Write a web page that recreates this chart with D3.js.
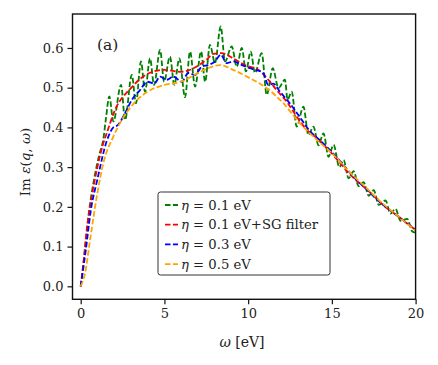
<!DOCTYPE html>
<html><head><meta charset="utf-8">
<script src="https://cdn.jsdelivr.net/npm/d3@7"></script>
<style>body{margin:0;background:#fff}</style>
</head><body>
<svg id="c" width="438" height="365"></svg>
<script>
// ---- data ----
const xTicks = [0, 5, 10, 15, 20];
const yTicks = [0.0, 0.1, 0.2, 0.3, 0.4, 0.5, 0.6];
const seriesNames = ["0.1 eV", "0.1 eV+SG filter", "0.3 eV", "0.5 eV"];
const seriesColors = ["green", "red", "blue", "orange"];

const green = [[0,0],[0.2,0.07],[0.5,0.19],[0.8,0.27],[1.1,0.33],[1.35,0.37],[1.5,0.42],[1.71,0.478],[1.95,0.415],[2.41,0.507],[2.65,0.419],[3.05,0.532],[3.30,0.461],[3.60,0.566],[3.84,0.49],[4.14,0.574],[4.38,0.507],[4.74,0.595],[4.98,0.515],[5.33,0.578],[5.59,0.507],[5.89,0.574],[6.23,0.476],[6.53,0.591],[6.83,0.503],[7.19,0.591],[7.43,0.515],[7.72,0.608],[8.02,0.562],[8.36,0.654],[8.62,0.566],[9.02,0.604],[9.32,0.553],[9.62,0.6],[9.87,0.541],[10.15,0.591],[10.41,0.537],[10.81,0.587],[11.11,0.482],[11.47,0.549],[11.81,0.499],[12.2,0.52],[12.35,0.47],[12.6,0.49],[12.9,0.402],[13.3,0.452],[13.6,0.381],[13.9,0.402],[14.2,0.355],[14.5,0.385],[14.8,0.326],[15.1,0.356],[15.45,0.3],[15.7,0.318],[16.0,0.272],[16.3,0.29],[16.6,0.252],[16.9,0.262],[17.2,0.228],[17.5,0.242],[17.8,0.205],[18.2,0.216],[18.5,0.183],[18.8,0.195],[19.1,0.165],[19.5,0.17],[19.8,0.138],[20,0.135]];
const red = [[0,0],[0.16,0.058],[0.36,0.142],[0.66,0.226],[0.96,0.293],[1.35,0.36],[1.55,0.385],[2.05,0.444],[3,0.499],[4,0.535],[5,0.545],[6,0.54],[7,0.555],[7.5,0.57],[7.92,0.585],[8.4,0.587],[9.1,0.574],[9.8,0.557],[10.6,0.545],[11.2,0.52],[11.7,0.494],[12.3,0.465],[12.9,0.427],[13.5,0.394],[14.1,0.373],[14.7,0.348],[15.5,0.31],[16,0.285],[16.5,0.265],[17,0.247],[17.5,0.228],[18,0.207],[18.5,0.19],[19,0.175],[19.5,0.158],[20,0.142]];
const blue = [[0,0],[0.3,0.09],[0.6,0.19],[1.0,0.27],[1.55,0.365],[1.95,0.4],[2.2,0.405],[2.65,0.436],[3.05,0.469],[3.54,0.494],[3.98,0.515],[4.4,0.511],[4.74,0.528],[5.14,0.52],[5.53,0.528],[6.03,0.515],[6.43,0.537],[6.83,0.532],[7.23,0.553],[7.62,0.557],[8.02,0.566],[8.36,0.583],[8.72,0.562],[9.12,0.566],[9.62,0.557],[10.1,0.549],[10.41,0.545],[10.9,0.537],[11.2,0.507],[11.5,0.51],[11.9,0.49],[12.5,0.46],[13.1,0.425],[13.7,0.39],[14.3,0.367],[15,0.338],[15.6,0.31],[16.2,0.28],[17,0.247],[18,0.207],[19,0.175],[20,0.142]];
const orange = [[0,0],[0.26,0.033],[0.56,0.117],[0.96,0.226],[1.35,0.31],[1.95,0.377],[3,0.452],[4,0.49],[5,0.507],[6,0.515],[7,0.537],[7.6,0.549],[8.3,0.557],[9.1,0.545],[10.1,0.524],[11.1,0.499],[12.1,0.461],[13.1,0.41],[14.1,0.369],[15.1,0.331],[16,0.29],[17,0.25],[18,0.21],[19,0.175],[20,0.14]];
const seriesData = [green, red, blue, orange];

// ---- chart ----
const svg = d3.select("#c");
const font = "DejaVu Serif";
const x = d3.scaleLinear().domain([-0.49, 20]).range([72.5, 415.6]);
const y = d3.scaleLinear().domain([-0.0327, 0.6855]).range([299.3, 14]);

const line = d3.line().x(d => x(d[0])).y(d => y(d[1])).curve(d3.curveMonotoneX);
const plot = svg.append("g");
seriesData.forEach((s, i) => {
  plot.append("path").attr("d", line(s)).attr("fill", "none")
    .attr("stroke", seriesColors[i]).attr("stroke-width", 1.8)
    .attr("stroke-dasharray", "5.5,2.4");
});

// frame
svg.append("rect").attr("x", x.range()[0]).attr("y", y.range()[1])
  .attr("width", x.range()[1] - x.range()[0]).attr("height", y.range()[0] - y.range()[1])
  .attr("fill", "none").attr("stroke", "#111").attr("stroke-width", 1.4);

// axes
const xa = svg.append("g").attr("transform", `translate(0,${y.range()[0]})`)
  .call(d3.axisBottom(x).tickValues(xTicks).tickFormat(d3.format("d")).tickSize(5).tickPadding(4));
const ya = svg.append("g").attr("transform", `translate(${x.range()[0]},0)`)
  .call(d3.axisLeft(y).tickValues(yTicks).tickFormat(d3.format(".1f")).tickSize(5).tickPadding(4));
[xa, ya].forEach(a => {
  a.select(".domain").remove();
  a.selectAll("line").attr("stroke", "#111").attr("stroke-width", 1.2);
  a.selectAll("text").attr("font-family", font).attr("font-size", 13).attr("fill", "#222");
});

// axis labels
const xl = svg.append("text").attr("x", 242).attr("y", 347).attr("text-anchor", "middle")
  .attr("font-family", font).attr("font-size", 14).attr("fill", "#222");
xl.append("tspan").attr("font-style", "italic").text("ω");
xl.append("tspan").text(" [eV]");

const yl = svg.append("text").attr("transform", "translate(30,162) rotate(-90)")
  .attr("text-anchor", "middle").attr("font-family", font).attr("font-size", 13.5).attr("fill", "#222");
yl.append("tspan").text("Im ");
yl.append("tspan").attr("font-style", "italic").text("ε");
yl.append("tspan").text("(");
yl.append("tspan").attr("font-style", "italic").text("q");
yl.append("tspan").text(", ");
yl.append("tspan").attr("font-style", "italic").text("ω");
yl.append("tspan").text(")");

// panel label
svg.append("text").attr("x", 97).attr("y", 50).attr("font-family", font)
  .attr("font-size", 15.5).attr("fill", "#222").text("(a)");

// legend
const lg = svg.append("g");
lg.append("rect").attr("x", 158).attr("y", 192).attr("width", 172).attr("height", 83)
  .attr("rx", 2.5).attr("fill", "#fff").attr("fill-opacity", 0.85)
  .attr("stroke", "#333").attr("stroke-width", 1);
seriesNames.forEach((nm, i) => {
  const yy = 205 + i * 19.7;
  lg.append("line").attr("x1", 165).attr("x2", 178).attr("y1", yy).attr("y2", yy)
    .attr("stroke", seriesColors[i]).attr("stroke-width", 1.8).attr("stroke-dasharray", "5.5,2.4");
  const t = lg.append("text").attr("x", 181).attr("y", yy + 4.5)
    .attr("font-family", font).attr("font-size", 13.2).attr("fill", "#222");
  t.append("tspan").attr("font-style", "italic").text("η");
  t.append("tspan").text(" = " + nm);
});
</script>
</body></html>
